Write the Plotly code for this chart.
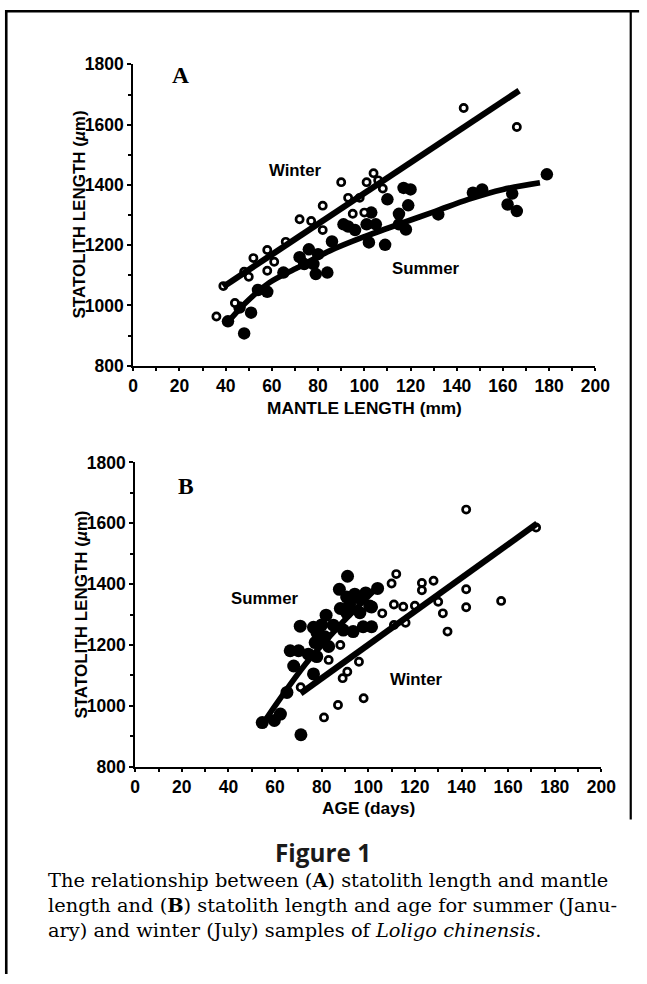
import plotly.graph_objects as go

W, H = 647, 984

# ---------------- Data ----------------
# Panel A: statolith length (um) vs mantle length (mm)
A_winter_x = [36, 39, 44, 48, 50, 52, 58, 58, 61, 66, 72, 77, 82, 82, 90, 93, 95, 98, 100, 101, 104, 106, 108, 143, 166]
A_winter_y = [963, 1064, 1008, 1112, 1095, 1157, 1184, 1115, 1145, 1211, 1286, 1280, 1250, 1331, 1409, 1357, 1304, 1357, 1308, 1409, 1439, 1415, 1388, 1655, 1592]

A_summer_x = [41, 46, 48, 51, 54, 58, 65, 72, 74, 76, 78, 79, 80, 84, 86, 91, 93, 96, 101, 102, 103, 105, 109, 110, 115, 115, 117, 118, 119, 120, 132, 147, 151, 162, 164, 166, 179]
A_summer_y = [947, 993, 907, 976, 1051, 1045, 1109, 1160, 1137, 1186, 1137, 1104, 1170, 1109, 1212, 1269, 1262, 1250, 1269, 1209, 1308, 1269, 1201, 1352, 1304, 1269, 1390, 1252, 1332, 1385, 1302, 1374, 1385, 1335, 1371, 1313, 1435]

A_winter_fit_x = [39, 167]
A_winter_fit_y = [1062, 1713]
A_summer_fit_x = [40, 48, 59, 71, 85, 100, 117, 131, 145, 160, 176]
A_summer_fit_y = [936, 1004, 1076, 1125, 1181, 1228, 1275, 1313, 1352, 1385, 1407]

# Panel B: statolith length (um) vs age (days)
B_summer_x = [54.5, 59.7, 62.3, 65.1, 71.1, 68.0, 76.5, 66.5, 70.1, 74.3, 77.9, 77.2, 81.4, 70.8, 76.5, 80.0, 89.3, 93.5, 97.8, 81.9, 90.7, 96.4, 100.6, 87.6, 90.7, 94.2, 98.9, 91.1, 101.4, 101.4, 104, 85, 83, 78, 88, 92, 96]
B_summer_y = [945, 952, 973, 1044, 905, 1131, 1105, 1181, 1181, 1170, 1162, 1208, 1227, 1262, 1258, 1266, 1249, 1244, 1260, 1298, 1306, 1306, 1328, 1383, 1358, 1367, 1371, 1426, 1325, 1260, 1386, 1265, 1195, 1240, 1320, 1335, 1355]

B_winter_x = [71, 81, 87, 98, 83, 88, 89, 91, 96, 106, 110, 112, 111, 115, 120, 123, 123, 128, 130, 132, 134, 116, 111, 142, 142, 142, 157, 172]
B_winter_y = [1061, 962, 1003, 1025, 1151, 1200, 1091, 1112, 1145, 1304, 1402, 1433, 1333, 1326, 1329, 1404, 1380, 1411, 1342, 1304, 1244, 1273, 1266, 1383, 1324, 1645, 1345, 1586]

B_summer_fit_x = [54.5, 60, 66, 72, 78, 84, 90, 97, 104]
B_summer_fit_y = [938, 1000, 1065, 1127, 1182, 1233, 1283, 1337, 1391]
B_winter_fit_x = [71, 172.4]
B_winter_fit_y = [1041, 1599]

x_ticks = [0, 20, 40, 60, 80, 100, 120, 140, 160, 180, 200]
y_ticks = [800, 1000, 1200, 1400, 1600, 1800]

# ---------------- Layout helpers ----------------
# target position in the picture -> page pixel -> paper fraction
SX, OX = 0.975, 3.0
SY, OY = 0.982, 8.5

def px(x):
    return ((x - OX) / SX) / W

def py(y):
    return 1 - ((y - OY) / SY) / H

TICKFONT = dict(family="Liberation Sans, Arial", size=17.5, color="black", weight="bold")
LABFONT = dict(family="Liberation Sans, Arial", size=16.8, color="black", weight="bold")

fig = go.Figure()

def add_panel(xa, ya, wx, wy, sx, sy, wfx, wfy, sfx, sfy, summer_size):
    fig.add_trace(go.Scatter(x=sx, y=sy, mode="markers", xaxis=xa, yaxis=ya,
                             marker=dict(size=summer_size, color="black", line=dict(width=0)),
                             showlegend=False, hoverinfo="skip"))
    fig.add_trace(go.Scatter(x=wx, y=wy, mode="markers", xaxis=xa, yaxis=ya,
                             marker=dict(size=7.2, color="white", line=dict(width=2.7, color="black")),
                             showlegend=False, hoverinfo="skip"))
    fig.add_trace(go.Scatter(x=wfx, y=wfy, mode="lines", xaxis=xa, yaxis=ya,
                             line=dict(color="black", width=6.2), showlegend=False, hoverinfo="skip"))
    fig.add_trace(go.Scatter(x=sfx, y=sfy, mode="lines", xaxis=xa, yaxis=ya,
                             line=dict(color="black", width=5.7, shape="spline", smoothing=0.8),
                             showlegend=False, hoverinfo="skip"))

add_panel("x", "y", A_winter_x, A_winter_y, A_summer_x, A_summer_y,
          A_winter_fit_x, A_winter_fit_y, A_summer_fit_x, A_summer_fit_y, 12.5)
add_panel("x2", "y2", B_winter_x, B_winter_y, B_summer_x, B_summer_y,
          B_winter_fit_x, B_winter_fit_y, B_summer_fit_x, B_summer_fit_y, 13)

def xaxis_cfg(domain, anchor):
    return dict(domain=domain, anchor=anchor, range=[0, 200], tickmode="array",
                tickvals=x_ticks, ticktext=[str(v) for v in x_ticks],
                showline=True, linecolor="black", linewidth=2, mirror=False,
                ticks="outside", ticklen=3, tickwidth=1.5, tickcolor="black",
                minor=dict(tickvals=list(range(10, 200, 20)), ticks="outside", ticklen=3, tickwidth=1.5, tickcolor="black"),
                showgrid=False, zeroline=False, tickfont=TICKFONT, fixedrange=True)

def yaxis_cfg(domain, anchor):
    return dict(domain=domain, anchor=anchor, range=[800, 1800], tickmode="array",
                tickvals=y_ticks, ticktext=[str(v) for v in y_ticks],
                showline=True, linecolor="black", linewidth=2, mirror=False,
                ticks="outside", ticklen=4, tickwidth=1.5, tickcolor="black",
                minor=dict(tickvals=list(range(900, 1800, 200)), ticks="outside", ticklen=3, tickwidth=1.5, tickcolor="black"),
                showgrid=False, zeroline=False, tickfont=TICKFONT, fixedrange=True)

annotations = []

def ann(text, x, y, font, xanchor="center", yanchor="middle", angle=0):
    annotations.append(dict(text=text, x=px(x), y=py(y), xref="paper", yref="paper",
                            showarrow=False, xanchor=xanchor, yanchor=yanchor,
                            font=font, textangle=angle))

# Panel letters
ann("A", 180, 74, dict(family="Liberation Serif, Times New Roman", size=23.5, color="black", weight="bold"))
ann("B", 185, 486, dict(family="Liberation Serif, Times New Roman", size=23.5, color="black", weight="bold"))
# Series labels
ann("Winter", 295, 169, LABFONT)
ann("Summer", 427, 268, LABFONT)
ann("Summer", 265, 598, LABFONT)
ann("Winter", 417, 680, LABFONT)
# Axis titles
YT = dict(family="Liberation Sans, Arial", size=17, color="black", weight="bold")
XT = dict(family="Liberation Sans, Arial", size=17.3, color="black", weight="bold")
ann("STATOLITH LENGTH (<i>µ</i>m)", 77, 214, YT, angle=-90)
ann("STATOLITH LENGTH (<i>µ</i>m)", 80, 615, YT, angle=-90)
ann("MANTLE LENGTH (mm)", 365, 407, XT)
ann("AGE (days)", 369, 808, XT)
# Caption
ann("Figure 1", 323, 853, dict(family="Open Sans, Liberation Sans", size=24.3, color="#1a1a1a", weight="bold"))
CAP = dict(family="DejaVu Serif", size=19.4, color="black")
ann("The relationship between (<b>A</b>) statolith length and mantle", 44, 881, CAP, xanchor="left")
ann("length and (<b>B</b>) statolith length and age for summer (Janu-", 44, 906, CAP, xanchor="left")
ann("ary) and winter (July) samples of <i>Loligo chinensis</i>.", 44, 931, CAP, xanchor="left")

# Page frame
shapes = [
    dict(type="line", xref="paper", yref="paper", x0=1.3 / W, x1=1.3 / W, y0=1, y1=0, line=dict(color="black", width=2.6)),
    dict(type="line", xref="paper", yref="paper", x0=0, x1=px(641), y0=1 - 1.3 / H, y1=1 - 1.3 / H, line=dict(color="black", width=2.6)),
    dict(type="line", xref="paper", yref="paper", x0=1 - 1.3 / W, x1=1 - 1.3 / W, y0=1, y1=py(820), line=dict(color="black", width=2.2)),
]

fig.update_layout(
    width=W, height=H, margin=dict(l=0, r=0, t=0, b=0),
    paper_bgcolor="white", plot_bgcolor="white",
    xaxis=xaxis_cfg([px(132), px(597)], "y"),
    yaxis=yaxis_cfg([py(365), py(63)], "x"),
    xaxis2=xaxis_cfg([px(134), px(603)], "y2"),
    yaxis2=yaxis_cfg([py(767), py(462)], "x2"),
    annotations=annotations, shapes=shapes, showlegend=False,
)

fig.write_html("out.html", config={"displayModeBar": False},
               post_script="document.body.style.margin='0';document.body.style.padding='0';document.body.style.overflow='hidden';document.documentElement.style.overflow='hidden';")
